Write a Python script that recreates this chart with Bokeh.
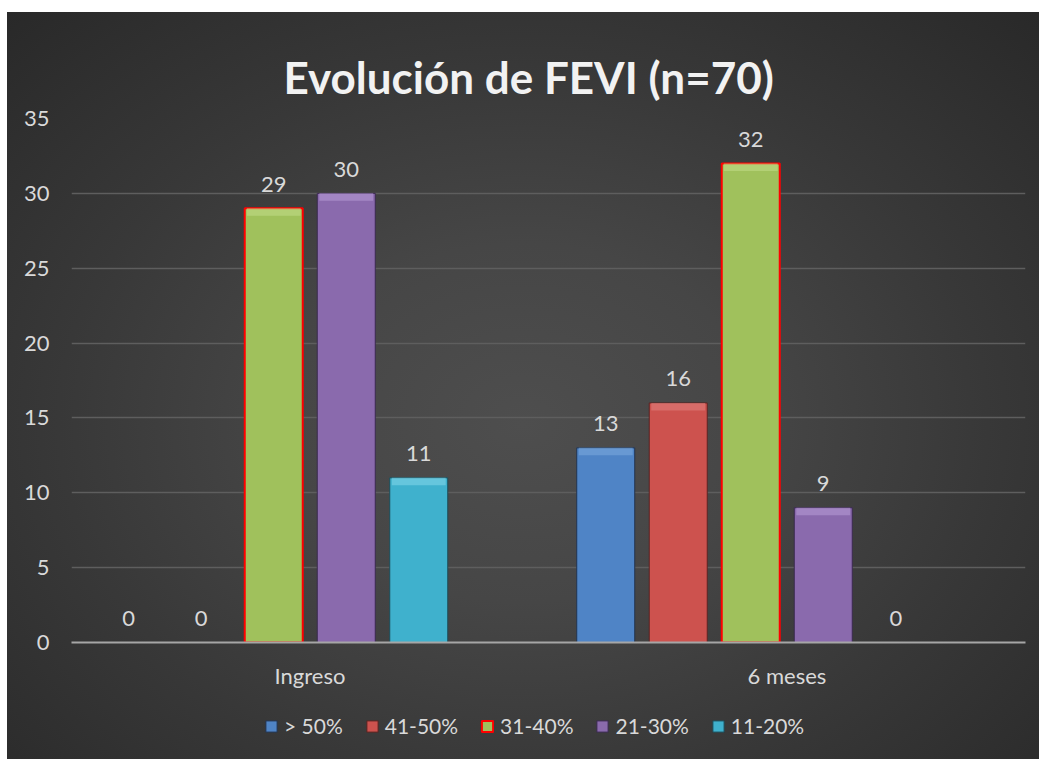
from bokeh.plotting import figure
from bokeh.layouts import column
from bokeh.models import (ColumnDataSource, FactorRange, Range1d, Legend, LegendItem,
                          Title, FixedTicker)
from bokeh.transform import dodge
from bokeh.embed import file_html
from bokeh.resources import INLINE
from bokeh.core.properties import value

# ---------------- data ----------------
categories = ["Ingreso", "6 meses"]
series_names = ["> 50%", "41-50%", "31-40%", "21-30%", "11-20%"]
gt_50 = [0, 13]
r_41_50 = [0, 16]
r_31_40 = [29, 32]
r_21_30 = [30, 9]
r_11_20 = [11, 0]
y_ticks = [0, 5, 10, 15, 20, 25, 30, 35]
title_text = "Evolución de FEVI (n=70)"

series_values = [gt_50, r_41_50, r_31_40, r_21_30, r_11_20]

# ---------------- styles ----------------
FONT = "Lato"
TXT = "#d9d9d9"
fill_colors = ["#4f84c6", "#cd524e", "#a0c15c", "#8a6aad", "#3fb1cd"]
top_colors = ["#7aa6dc", "#e07f7b", "#c0da86", "#b49ad3", "#7fd3e8"]
line_colors = ["#23344f", "#5a2422", "#ff0000", "#3a2a4f", "#1d4c58"]
line_widths = [1, 1, 2, 1, 1]

slot = 0.152
bar_w = 0.1216

p = figure(x_range=FactorRange(factors=categories), y_range=Range1d(0, 35),
           width=1032, height=685,
           output_backend="svg", toolbar_location=None,
           min_border_left=64, min_border_right=14, min_border_top=106,
           min_border_bottom=55)
p.background_fill_alpha = 0
p.border_fill_alpha = 0
p.outline_line_color = None

# separate transparent strip below the chart that holds the legend
leg = figure(x_range=FactorRange(factors=categories), y_range=Range1d(0, 35),
             width=1032, height=62, output_backend="svg", toolbar_location=None,
             x_axis_type=None, y_axis_type=None,
             min_border_left=0, min_border_right=0, min_border_top=0,
             min_border_bottom=0)
leg.background_fill_alpha = 0
leg.border_fill_alpha = 0
leg.outline_line_color = None
leg.xgrid.visible = False
leg.ygrid.visible = False

items = []
for i, (name, vals) in enumerate(zip(series_names, series_values)):
    off = (i - 2.5) * slot
    band = [max(v - 0.5, 0) for v in vals]
    src = ColumnDataSource(dict(cat=categories, val=vals, band=band,
                                txt=[str(v) for v in vals]))
    p.vbar(x=dodge("cat", off, range=p.x_range), top="val", bottom=0,
           width=bar_w, source=src, fill_color=fill_colors[i],
           line_color=line_colors[i], line_width=line_widths[i])
    p.vbar(x=dodge("cat", off, range=p.x_range), top="val", bottom="band",
           width=bar_w * 0.93, source=src, fill_color=top_colors[i],
           fill_alpha=0.6, line_alpha=0)
    p.text(x=dodge("cat", off, range=p.x_range), y="val", text="txt", source=src,
           text_align="center", text_baseline="alphabetic", y_offset=-24,
           text_color=TXT, text_font=value(FONT), text_font_size=value("22px"))
    # hidden twin renderer, used only for the legend key swatch
    lr = leg.vbar(x=dodge("cat", off, range=leg.x_range), top="val", bottom=0,
                  width=bar_w, source=src, fill_color=fill_colors[i],
                  line_color=line_colors[i], line_width=line_widths[i],
                  visible=False)
    items.append(LegendItem(label=name, renderers=[lr]))

# axes
p.yaxis.ticker = FixedTicker(ticks=y_ticks)
p.yaxis.axis_line_color = None
p.yaxis.major_tick_line_color = None
p.yaxis.minor_tick_line_color = None
p.yaxis.major_label_text_color = TXT
p.yaxis.major_label_text_font = FONT
p.yaxis.major_label_text_font_size = "22px"
p.yaxis.major_label_standoff = 16

p.xaxis.axis_line_color = "#a6a6a6"
p.xaxis.axis_line_width = 2
p.xaxis.major_tick_line_color = None
p.xaxis.minor_tick_line_color = None
p.xaxis.major_label_text_color = TXT
p.xaxis.major_label_text_font = FONT
p.xaxis.major_label_text_font_size = "22px"
p.xaxis.major_label_standoff = 13

p.xgrid.grid_line_color = None
p.ygrid.grid_line_color = "#5e5e5e"
p.ygrid.grid_line_width = 1.5

legend = Legend(items=items, orientation="horizontal", location=(193, 21),
                click_policy="none",
                background_fill_alpha=0, border_line_color=None,
                label_text_color=TXT, label_text_font=FONT,
                label_text_font_size="21px", glyph_width=14, glyph_height=14,
                label_standoff=6, spacing=22, margin=0, padding=4)
leg.add_layout(legend)

p.title = Title(text=title_text, align="left", offset=212, standoff=32,
                text_color="#f2f2f2", text_font=FONT, text_font_style="bold",
                text_font_size="44px")

layout = column(p, leg, spacing=0)
layout.styles = {"margin-left": "7px", "margin-top": "12px",
                 "background": "radial-gradient(ellipse 75% 80% at 50% 55%, #4e4e4e 0%, #464646 30%, #383838 60%, #272727 100%)"}

open("out.html", "w").write(file_html(layout, INLINE))
